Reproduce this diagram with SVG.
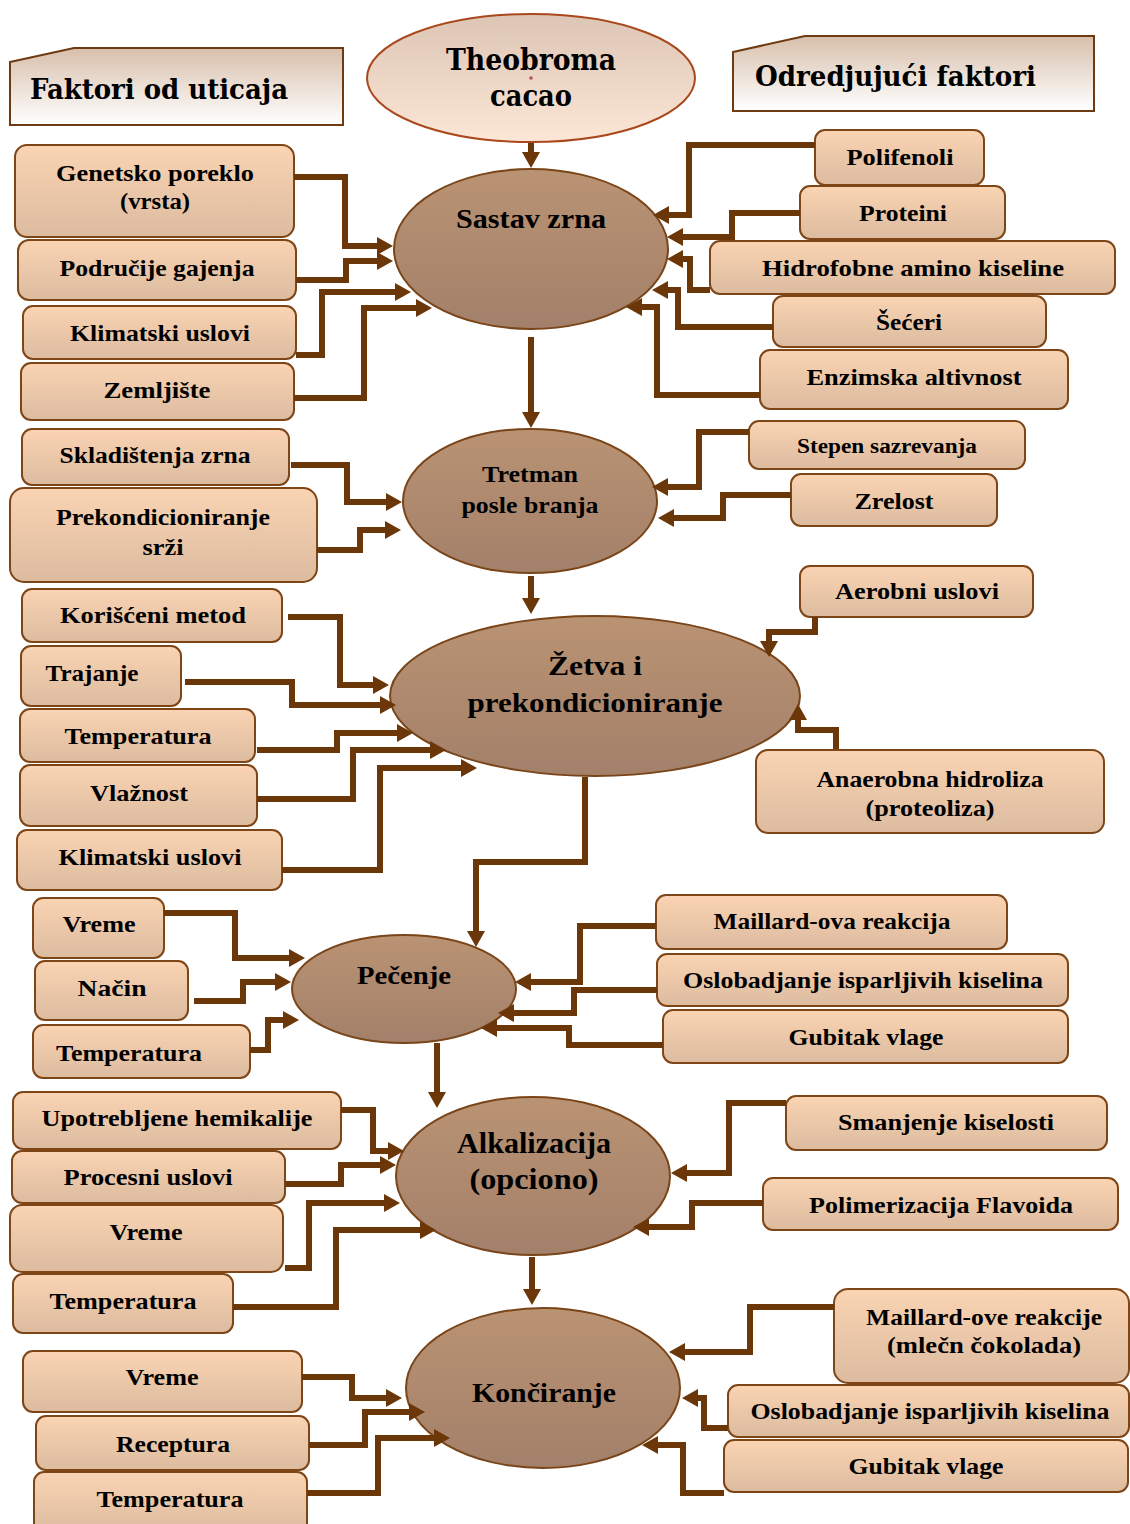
<svg xmlns="http://www.w3.org/2000/svg" width="1130" height="1524" viewBox="0 0 1130 1524">
<style>
.box{fill:url(#gBox);stroke:#7e4516;stroke-width:2}
.proc{fill:url(#gProc);stroke:#7a4519;stroke-width:2}
.hdr{fill:url(#gHdr);stroke:#6e3a12;stroke-width:2}
.t{font-family:'Liberation Serif','Times New Roman',serif;font-weight:bold;font-size:24px;text-anchor:middle;fill:#000}
.s{font-size:20px}
.p23{font-size:23px}.p25{font-size:25px}.p27{font-size:27px}.p28{font-size:28px}.p29{font-size:29px}
.h{font-family:'DejaVu Serif Condensed','DejaVu Serif',serif;font-weight:bold;font-size:27px;fill:#000}
.h29{font-size:29px}
.conn path{fill:none;stroke:#6b3608;stroke-width:6;stroke-linejoin:miter;marker-end:url(#ah)}
</style>
<defs>
<linearGradient id="gBox" x1="0" y1="0" x2="0" y2="1"><stop offset="0" stop-color="#fad4b3"/><stop offset="1" stop-color="#dcbb9f"/></linearGradient>
<linearGradient id="gProc" x1="0" y1="0" x2="0" y2="1"><stop offset="0" stop-color="#ba9373"/><stop offset="1" stop-color="#a3806a"/></linearGradient>
<linearGradient id="gHdr" x1="0" y1="0" x2="0" y2="1"><stop offset="0" stop-color="#d8bfab"/><stop offset="1" stop-color="#ffffff"/></linearGradient>
<linearGradient id="gTheo" x1="0" y1="0" x2="0" y2="1"><stop offset="0" stop-color="#dcc5b4"/><stop offset="1" stop-color="#fce6d6"/></linearGradient>
<marker id="ah" markerUnits="userSpaceOnUse" markerWidth="16" markerHeight="18" refX="4" refY="9" orient="auto"><path d="M0,0 L16,9 L0,18 z" fill="#6b3608"/></marker>
</defs>

<g id="hdr-left"><polygon class="hdr" points="10,62 74,48 343,48 343,125 10,125"/><text class="h" x="30" y="99" textLength="258" lengthAdjust="spacingAndGlyphs">Faktori od uticaja</text></g>
<g id="hdr-right"><polygon class="hdr" points="733,52 805,36 1094,36 1094,111 733,111"/><text class="h" x="755" y="86" textLength="281" lengthAdjust="spacingAndGlyphs">Odredjujući faktori</text></g>
<g id="theobroma"><ellipse cx="531" cy="78" rx="164" ry="64" fill="url(#gTheo)" stroke="#a9481c" stroke-width="2"/><text class="h h29" x="446" y="70" textLength="170" lengthAdjust="spacingAndGlyphs">Theobroma</text><text class="h h29" x="490" y="106" textLength="82" lengthAdjust="spacingAndGlyphs">cacao</text><circle cx="531" cy="78" r="1.8" fill="#c0504d"/></g>

<g id="sastav"><ellipse class="proc" cx="531" cy="249" rx="137" ry="80"/><text class="t p27" x="531" y="228" textLength="150" lengthAdjust="spacingAndGlyphs">Sastav zrna</text></g>
<g id="tretman"><ellipse class="proc" cx="530" cy="501" rx="127" ry="72"/><text class="t p23" x="530" y="482" textLength="96" lengthAdjust="spacingAndGlyphs">Tretman</text><text class="t p23" x="530" y="513" textLength="137" lengthAdjust="spacingAndGlyphs">posle branja</text></g>
<g id="zetva"><ellipse class="proc" cx="595" cy="696" rx="205" ry="80"/><text class="t p28" x="595" y="675" textLength="94" lengthAdjust="spacingAndGlyphs">Žetva i</text><text class="t p28" x="595" y="712" textLength="255" lengthAdjust="spacingAndGlyphs">prekondicioniranje</text></g>
<g id="pecenje"><ellipse class="proc" cx="404" cy="989" rx="112" ry="54"/><text class="t p25" x="404" y="984" textLength="94" lengthAdjust="spacingAndGlyphs">Pečenje</text></g>
<g id="alkalizacija"><ellipse class="proc" cx="533" cy="1176" rx="137" ry="79"/><text class="t p29" x="534" y="1153" textLength="154" lengthAdjust="spacingAndGlyphs">Alkalizacija</text><text class="t p29" x="534" y="1189" textLength="129" lengthAdjust="spacingAndGlyphs">(opciono)</text></g>
<g id="konciranje"><ellipse class="proc" cx="543" cy="1388" rx="137" ry="80"/><text class="t p28" x="544" y="1402" textLength="144" lengthAdjust="spacingAndGlyphs">Končiranje</text></g>

<g id="genetsko"><rect class="box" x="15" y="145" width="279" height="92" rx="12"/><text class="t" x="155" y="181" textLength="198" lengthAdjust="spacingAndGlyphs">Genetsko poreklo</text><text class="t" x="155" y="209" textLength="70" lengthAdjust="spacingAndGlyphs">(vrsta)</text></g>
<g id="podrucje"><rect class="box" x="18" y="240" width="278" height="60" rx="11"/><text class="t" x="157" y="276" textLength="195" lengthAdjust="spacingAndGlyphs">Područije gajenja</text></g>
<g id="klimatski1"><rect class="box" x="23" y="306" width="273" height="53" rx="10"/><text class="t" x="160" y="341" textLength="180" lengthAdjust="spacingAndGlyphs">Klimatski uslovi</text></g>
<g id="zemljiste"><rect class="box" x="21" y="363" width="273" height="57" rx="10"/><text class="t" x="157" y="398" textLength="107" lengthAdjust="spacingAndGlyphs">Zemljište</text></g>

<g id="polifenoli"><rect class="box" x="815" y="130" width="169" height="55" rx="10"/><text class="t" x="900" y="165" textLength="107" lengthAdjust="spacingAndGlyphs">Polifenoli</text></g>
<g id="proteini"><rect class="box" x="800" y="186" width="205" height="53" rx="10"/><text class="t" x="903" y="221" textLength="88" lengthAdjust="spacingAndGlyphs">Proteini</text></g>
<g id="hidrofobne"><rect class="box" x="710" y="241" width="405" height="53" rx="10"/><text class="t" x="913" y="276" textLength="302" lengthAdjust="spacingAndGlyphs">Hidrofobne amino kiseline</text></g>
<g id="seceri"><rect class="box" x="773" y="296" width="273" height="51" rx="10"/><text class="t" x="909" y="330" textLength="66" lengthAdjust="spacingAndGlyphs">Šećeri</text></g>
<g id="enzimska"><rect class="box" x="760" y="350" width="308" height="59" rx="10"/><text class="t" x="914" y="385" textLength="215" lengthAdjust="spacingAndGlyphs">Enzimska altivnost</text></g>

<g id="skladistenja"><rect class="box" x="22" y="429" width="267" height="56" rx="10"/><text class="t" x="155" y="463" textLength="191" lengthAdjust="spacingAndGlyphs">Skladištenja zrna</text></g>
<g id="prekond"><rect class="box" x="10" y="488" width="307" height="94" rx="14"/><text class="t" x="163" y="525" textLength="214" lengthAdjust="spacingAndGlyphs">Prekondicioniranje</text><text class="t" x="163" y="555" textLength="41" lengthAdjust="spacingAndGlyphs">srži</text></g>
<g id="stepen"><rect class="box" x="749" y="421" width="276" height="48" rx="10"/><text class="t s" x="887" y="453" textLength="180" lengthAdjust="spacingAndGlyphs">Stepen sazrevanja</text></g>
<g id="zrelost"><rect class="box" x="791" y="474" width="206" height="52" rx="10"/><text class="t" x="894" y="509" textLength="79" lengthAdjust="spacingAndGlyphs">Zrelost</text></g>

<g id="korisceni"><rect class="box" x="22" y="589" width="260" height="53" rx="10"/><text class="t" x="153" y="623" textLength="186" lengthAdjust="spacingAndGlyphs">Korišćeni metod</text></g>
<g id="trajanje"><rect class="box" x="21" y="646" width="160" height="60" rx="10"/><text class="t" x="92" y="681" textLength="93" lengthAdjust="spacingAndGlyphs">Trajanje</text></g>
<g id="temperatura1"><rect class="box" x="20" y="709" width="235" height="53" rx="10"/><text class="t" x="138" y="744" textLength="147" lengthAdjust="spacingAndGlyphs">Temperatura</text></g>
<g id="vlaznost"><rect class="box" x="20" y="765" width="237" height="61" rx="10"/><text class="t" x="139" y="801" textLength="98" lengthAdjust="spacingAndGlyphs">Vlažnost</text></g>
<g id="klimatski2"><rect class="box" x="17" y="830" width="265" height="60" rx="10"/><text class="t" x="150" y="865" textLength="183" lengthAdjust="spacingAndGlyphs">Klimatski uslovi</text></g>
<g id="aerobni"><rect class="box" x="800" y="566" width="233" height="51" rx="10"/><text class="t" x="917" y="599" textLength="164" lengthAdjust="spacingAndGlyphs">Aerobni uslovi</text></g>
<g id="anaerobna"><rect class="box" x="756" y="750" width="348" height="83" rx="12"/><text class="t" x="930" y="787" textLength="227" lengthAdjust="spacingAndGlyphs">Anaerobna hidroliza</text><text class="t" x="930" y="816" textLength="129" lengthAdjust="spacingAndGlyphs">(proteoliza)</text></g>

<g id="vreme1"><rect class="box" x="33" y="898" width="131" height="60" rx="10"/><text class="t" x="99" y="932" textLength="73" lengthAdjust="spacingAndGlyphs">Vreme</text></g>
<g id="nacin"><rect class="box" x="35" y="961" width="153" height="59" rx="10"/><text class="t" x="112" y="996" textLength="69" lengthAdjust="spacingAndGlyphs">Način</text></g>
<g id="temperatura2"><rect class="box" x="33" y="1025" width="217" height="53" rx="10"/><text class="t" x="129" y="1061" textLength="146" lengthAdjust="spacingAndGlyphs">Temperatura</text></g>
<g id="maillard1"><rect class="box" x="656" y="895" width="351" height="54" rx="10"/><text class="t" x="832" y="929" textLength="237" lengthAdjust="spacingAndGlyphs">Maillard-ova reakcija</text></g>
<g id="oslobadjanje1"><rect class="box" x="657" y="954" width="411" height="52" rx="10"/><text class="t" x="863" y="988" textLength="360" lengthAdjust="spacingAndGlyphs">Oslobadjanje isparljivih kiselina</text></g>
<g id="gubitak1"><rect class="box" x="663" y="1010" width="405" height="53" rx="10"/><text class="t" x="866" y="1045" textLength="155" lengthAdjust="spacingAndGlyphs">Gubitak vlage</text></g>

<g id="upotrebljene"><rect class="box" x="13" y="1092" width="328" height="57" rx="10"/><text class="t" x="177" y="1126" textLength="271" lengthAdjust="spacingAndGlyphs">Upotrebljene hemikalije</text></g>
<g id="procesni"><rect class="box" x="12" y="1151" width="273" height="52" rx="10"/><text class="t" x="148" y="1185" textLength="169" lengthAdjust="spacingAndGlyphs">Procesni uslovi</text></g>
<g id="vreme2"><rect class="box" x="10" y="1205" width="273" height="67" rx="12"/><text class="t" x="146" y="1240" textLength="73" lengthAdjust="spacingAndGlyphs">Vreme</text></g>
<g id="temperatura3"><rect class="box" x="13" y="1274" width="220" height="59" rx="10"/><text class="t" x="123" y="1309" textLength="147" lengthAdjust="spacingAndGlyphs">Temperatura</text></g>
<g id="smanjenje"><rect class="box" x="786" y="1096" width="321" height="54" rx="10"/><text class="t" x="946" y="1130" textLength="216" lengthAdjust="spacingAndGlyphs">Smanjenje kiselosti</text></g>
<g id="polimerizacija"><rect class="box" x="763" y="1178" width="355" height="52" rx="10"/><text class="t" x="941" y="1213" textLength="264" lengthAdjust="spacingAndGlyphs">Polimerizacija Flavoida</text></g>

<g id="vreme3"><rect class="box" x="23" y="1351" width="279" height="61" rx="10"/><text class="t" x="162" y="1385" textLength="73" lengthAdjust="spacingAndGlyphs">Vreme</text></g>
<g id="receptura"><rect class="box" x="36" y="1416" width="273" height="54" rx="10"/><text class="t" x="173" y="1452" textLength="114" lengthAdjust="spacingAndGlyphs">Receptura</text></g>
<g id="temperatura4"><rect class="box" x="34" y="1472" width="273" height="62" rx="10"/><text class="t" x="170" y="1507" textLength="147" lengthAdjust="spacingAndGlyphs">Temperatura</text></g>
<g id="maillard2"><rect class="box" x="834" y="1289" width="295" height="94" rx="14"/><text class="t" x="984" y="1325" textLength="236" lengthAdjust="spacingAndGlyphs">Maillard-ove reakcije</text><text class="t" x="984" y="1353" textLength="194" lengthAdjust="spacingAndGlyphs">(mlečn čokolada)</text></g>
<g id="oslobadjanje2"><rect class="box" x="728" y="1385" width="401" height="52" rx="10"/><text class="t" x="930" y="1419" textLength="359" lengthAdjust="spacingAndGlyphs">Oslobadjanje isparljivih kiselina</text></g>
<g id="gubitak2"><rect class="box" x="724" y="1440" width="404" height="52" rx="10"/><text class="t" x="926" y="1474" textLength="155" lengthAdjust="spacingAndGlyphs">Gubitak vlage</text></g>

<g id="connectors" class="conn">
<path d="M531,143 V156"/>
<path d="M294,177 H345 V246 H381"/>
<path d="M296,280 H346 V261 H381"/>
<path d="M296,355 H322 V292 H399"/>
<path d="M294,398 H364 V308 H420"/>
<path d="M815,145 H689 V215 H665"/>
<path d="M800,213 H732 V237 H679"/>
<path d="M710,290 H690 V259 H679"/>
<path d="M773,327 H678 V290 H664"/>
<path d="M760,395 H657 V307 H638"/>
<path d="M531,337 V416"/>
<path d="M291,465 H347 V502 H390"/>
<path d="M317,550 H360 V530 H389"/>
<path d="M749,432 H699 V487 H664"/>
<path d="M791,495 H723 V518 H670"/>
<path d="M531,576 V602"/>
<path d="M288,617 H340 V685 H377"/>
<path d="M185,682 H292 V705 H384"/>
<path d="M257,750 H337 V733 H401"/>
<path d="M257,799 H353 V750 H434"/>
<path d="M282,870 H380 V768 H465"/>
<path d="M815,617 V632 H769 V645"/>
<path d="M836,749 V730 H798 V716"/>
<path d="M585,777 V862 H476 V935"/>
<path d="M164,913 H235 V958 H293"/>
<path d="M194,1001 H243 V982 H279"/>
<path d="M250,1050 H268 V1020 H287"/>
<path d="M656,926 H580 V982 H527"/>
<path d="M657,990 H574 V1013 H510"/>
<path d="M663,1045 H569 V1028 H493"/>
<path d="M437,1043 V1096"/>
<path d="M341,1110 H373 V1151 H392"/>
<path d="M285,1184 H341 V1165 H384"/>
<path d="M285,1268 H309 V1203 H388"/>
<path d="M233,1307 H336 V1230 H424"/>
<path d="M786,1103 H729 V1173 H683"/>
<path d="M763,1203 H692 V1227 H645"/>
<path d="M532,1257 V1293"/>
<path d="M302,1377 H352 V1398 H390"/>
<path d="M309,1445 H365 V1412 H413"/>
<path d="M307,1493 H378 V1438 H438"/>
<path d="M834,1307 H750 V1352 H681"/>
<path d="M728,1428 H704 V1398 H694"/>
<path d="M724,1493 H683 V1445 H654"/>
</g>
</svg>
